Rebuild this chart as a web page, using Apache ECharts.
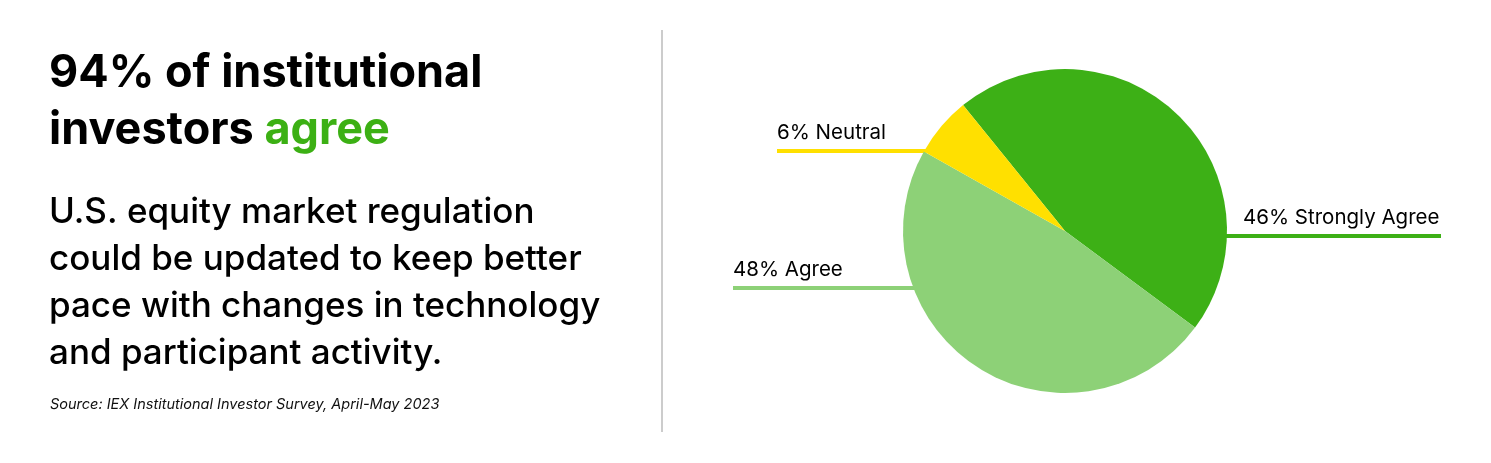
<!DOCTYPE html>
<html>
<head>
<meta charset="utf-8">
<script src="https://cdn.jsdelivr.net/npm/echarts@6/dist/echarts.min.js"></script>
<style>
  html, body { margin: 0; padding: 0; background: #ffffff; }
  #chart { width: 1491px; height: 463px; }
</style>
</head>
<body>
<div id="chart"></div>
<script>
// ---- Data ----
const categories = ['Strongly Agree', 'Agree', 'Neutral'];
const shares = [46, 48, 6];
const sliceColors = ['#3db016', '#8dd177', '#ffe000'];

const headlineLine1 = '94% of institutional';
const headlineLine2a = 'investors ';
const headlineLine2b = 'agree';
const bodyLines = [
  'U.S. equity market regulation',
  'could be updated to keep better',
  'pace with changes in technology',
  'and participant activity.'
];
const sourceText = 'Source: IEX Institutional Investor Survey, April-May 2023';

// ---- Layout ----
const cx = 1065, cy = 231, R = 162;
// per-slice label placement: vertical offset of the leader line from centre,
// side and the far end of the leader line (relative to centre)
const labelSpec = [
  { dy: 5,   side: 1,  far: 376, textDx: 178 },
  { dy: 57,  side: -1, far: 332, textDx: -332 },
  { dy: -80, side: -1, far: 288, textDx: -288 }
];

const chart = echarts.init(document.getElementById('chart'), null, { renderer: 'canvas' });

const option = {
  backgroundColor: '#ffffff',
  animation: false,
  graphic: [
    {
      type: 'text', left: 49, top: 45, silent: true,
      style: {
        text: headlineLine1 + '\n' + headlineLine2a + '{g|' + headlineLine2b + '}',
        font: '700 45px Inter',
        fill: '#000000',
        lineHeight: 57,
        rich: { g: { fill: '#3cb014', font: '700 45px Inter', lineHeight: 57 } }
      }
    },
    {
      type: 'text', left: 49, top: 189, silent: true,
      style: {
        text: bodyLines.join('\n'),
        font: '500 35px Inter',
        fill: '#000000',
        lineHeight: 47
      }
    },
    {
      type: 'text', left: 50, top: 397, silent: true,
      style: {
        text: sourceText,
        font: 'italic 400 14.5px Inter',
        fill: '#111111'
      }
    },
    {
      type: 'line', silent: true,
      shape: { x1: 662, y1: 30, x2: 662, y2: 432 },
      style: { stroke: '#cccccc', lineWidth: 2 }
    }
  ],
  series: [{
    type: 'pie',
    center: [cx, cy],
    radius: R,
    startAngle: 129,
    clockwise: true,
    silent: true,
    emphasis: { disabled: true },
    data: categories.map((c, i) => ({ name: c, value: shares[i], itemStyle: { color: sliceColors[i] } })),
    label: {
      show: true,
      formatter: p => p.value + '% ' + p.name,
      fontFamily: 'Inter',
      fontSize: 20.5,
      color: '#000000'
    },
    labelLine: {
      show: true,
      smooth: false,
      length: 10,
      length2: 10,
      lineStyle: { width: 4 }
    },
    labelLayout: function (p) {
      const s = labelSpec[p.dataIndex];
      const ly = cy + s.dy;
      const edgeX = cx + s.side * Math.sqrt(R * R - s.dy * s.dy);
      const farX = cx + s.side * s.far;
      return {
        x: cx + s.textDx,
        y: ly - 8,
        align: 'left',
        verticalAlign: 'bottom',
        labelLinePoints: [[edgeX - s.side * 2, ly], [edgeX, ly], [farX, ly]]
      };
    }
  }]
};

chart.setOption(option);
</script>
</body>
</html>
